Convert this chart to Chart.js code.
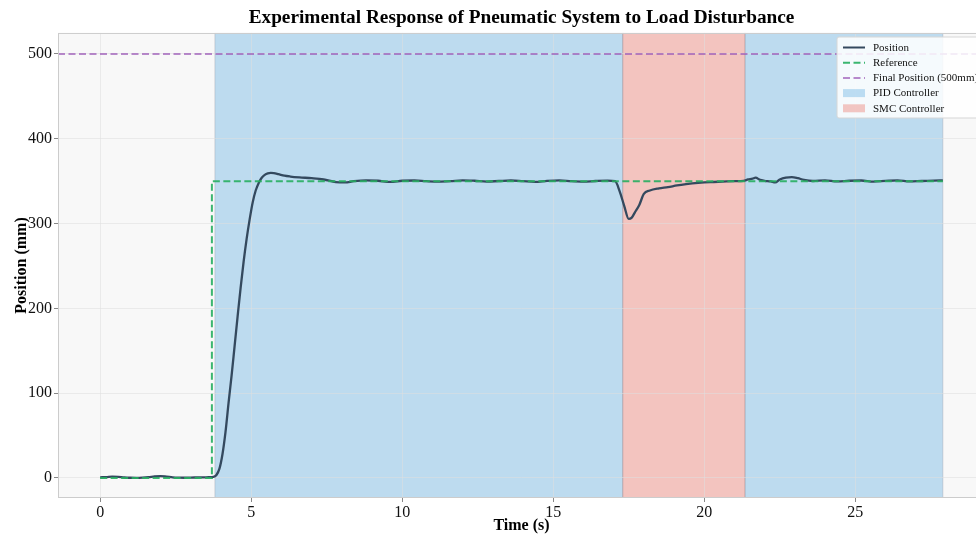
<!DOCTYPE html>
<html>
<head>
<meta charset="utf-8">
<title>Pneumatic System Load Disturbance Response</title>
<script src="https://cdn.jsdelivr.net/npm/chart.js@4.4.1/dist/chart.umd.min.js"></script>
<style>
  html, body { margin: 0; padding: 0; background: #ffffff; overflow: hidden; }
  #wrap { width: 1000px; height: 535px; }
</style>
</head>
<body>
<div id="wrap"><canvas id="chart" width="1000" height="535"></canvas></div>
<script>
// Measured piston position (mm) over time (s)
const timeS = [0, 0.2, 0.4, 0.6, 0.8, 1.0, 1.2, 1.4, 1.6, 1.8, 2.0, 2.2, 2.4, 2.6, 2.8, 3.0, 3.2, 3.4, 3.6, 3.75,
  3.85, 3.95, 4.05, 4.15, 4.25, 4.35, 4.45, 4.55, 4.65, 4.75, 4.85, 4.95, 5.05, 5.15, 5.25, 5.35, 5.45, 5.55, 5.65, 5.75,
  5.9, 6.1, 6.3, 6.6, 7.0, 7.4, 7.8, 8.1, 8.4, 8.8, 9.2, 9.6, 10.0, 10.4, 10.8, 11.2, 11.6, 12.0, 12.4, 12.8,
  13.2, 13.6, 14.0, 14.4, 14.8, 15.2, 15.6, 16.0, 16.4, 16.8, 17.05, 17.2, 17.35, 17.5, 17.6, 17.7, 17.85, 18.0, 18.2, 18.5,
  18.8, 19.1, 19.4, 19.8, 20.2, 20.6, 21.0, 21.3, 21.45, 21.6, 21.7, 21.85, 22.0, 22.2, 22.35, 22.5, 22.7, 22.9, 23.1, 23.3,
  23.6, 24.0, 24.4, 24.8, 25.2, 25.6, 26.0, 26.4, 26.8, 27.2, 27.6, 27.9];
const positionMm = [0.8, 1.0, 1.5, 1.2, 0.6, 0.3, 0.2, 0.4, 0.9, 1.8, 2.2, 1.6, 0.8, 0.4, 0.3, 0.5, 0.6, 0.7, 0.9, 1.2,
  3.5, 11, 28, 54, 88, 120, 155, 190, 224, 255, 282, 305, 325, 339, 348, 354, 357.5, 359.3, 359.8, 359.5,
  358.3, 356.5, 355.5, 354.5, 353.5, 352, 349, 348.5, 350, 351, 350.5, 349.2, 350.5, 350.8, 350, 349.5, 350, 351, 350.5, 349.6,
  350.2, 350.8, 350, 349.2, 350.4, 351, 350, 349.5, 350.2, 350.6, 350, 338, 321, 305.5, 307, 313, 322, 335, 339, 341.5,
  343, 345, 346.5, 348, 349, 349.5, 350, 350.5, 352, 353, 354.2, 351.5, 350.5, 349.8, 348.5, 352, 354.3, 354.8, 353.5, 351.5,
  350.2, 351, 349.8, 350.5, 350.8, 349.6, 350.3, 350.9, 349.7, 350.2, 350.6, 351];

// Reference set-point (step to 350 mm)
const refTimeS = [0, 3.7, 3.7, 27.9];
const refMm = [0, 0, 350, 350];

// Final target position
const finalPositionMm = 500;

// Controller active intervals (s)
const pidSpans = [[3.8, 17.3], [21.35, 27.9]];
const smcSpans = [[17.3, 21.35]];

// Axis ranges and ticks
const xRange = [-1.395, 29.295];
const yRange = [-23.6, 524.8];
const xTicks = [0, 5, 10, 15, 20, 25];
const yTicks = [0, 100, 200, 300, 400, 500];

const SERIF = "'Liberation Serif', 'Times New Roman', serif";
const PID_FILL = 'rgba(52, 152, 219, 0.3)';
const SMC_FILL = 'rgba(231, 76, 60, 0.3)';
const POS_COLOR = '#34495e';
const REF_COLOR = 'rgba(39, 174, 96, 0.9)';
const FINAL_COLOR = 'rgba(155, 89, 182, 0.7)';
const GRID_COLOR = 'rgba(222, 222, 222, 0.55)';

const toXY = (xs, ys) => xs.map((x, i) => ({ x: x, y: ys[i] }));

// Plot background and controller shading, behind grid and lines
const backdrop = {
  id: 'backdrop',
  beforeDraw(chart) {
    const { ctx, chartArea: a, scales: { x } } = chart;
    ctx.save();
    ctx.fillStyle = '#f8f8f8';
    ctx.fillRect(a.left, a.top, a.right - a.left, a.bottom - a.top);
    const shade = (spans, color) => {
      spans.forEach(([s, e]) => {
        const x0 = x.getPixelForValue(s), x1 = x.getPixelForValue(e);
        ctx.fillStyle = color;
        ctx.fillRect(x0, a.top, x1 - x0, a.bottom - a.top);
        ctx.strokeStyle = 'rgba(150,150,160,0.35)';
        ctx.lineWidth = 1;
        ctx.beginPath();
        ctx.moveTo(x0, a.top); ctx.lineTo(x0, a.bottom);
        ctx.moveTo(x1, a.top); ctx.lineTo(x1, a.bottom);
        ctx.stroke();
      });
    };
    shade(pidSpans, PID_FILL);
    shade(smcSpans, SMC_FILL);
    ctx.restore();
  }
};

// Axes frame and in-plot legend
const frameAndLegend = {
  id: 'frameAndLegend',
  afterDraw(chart) {
    const { ctx, chartArea: a } = chart;
    ctx.save();
    ctx.strokeStyle = '#cccccc';
    ctx.lineWidth = 1;
    ctx.strokeRect(a.left + 0.5, a.top + 0.5, a.right - a.left - 1, a.bottom - a.top - 1);

    const entries = [
      { label: 'Position', type: 'line', color: POS_COLOR, dash: [] },
      { label: 'Reference', type: 'line', color: REF_COLOR, dash: [7, 3.5] },
      { label: 'Final Position (500mm)', type: 'line', color: FINAL_COLOR, dash: [7, 3.5] },
      { label: 'PID Controller', type: 'box', color: PID_FILL },
      { label: 'SMC Controller', type: 'box', color: SMC_FILL }
    ];
    const bx = 837, by = 37, bw = 142, bh = 81;
    ctx.fillStyle = 'rgba(255,255,255,0.85)';
    ctx.strokeStyle = '#d6d6d6';
    ctx.beginPath();
    ctx.roundRect(bx, by, bw, bh, 2);
    ctx.fill();
    ctx.stroke();

    ctx.font = '11px ' + SERIF;
    ctx.textBaseline = 'middle';
    ctx.textAlign = 'left';
    entries.forEach((en, i) => {
      const cy = by + 10.5 + i * 15.2;
      if (en.type === 'line') {
        ctx.strokeStyle = en.color;
        ctx.lineWidth = 2;
        ctx.setLineDash(en.dash);
        ctx.beginPath();
        ctx.moveTo(843, cy);
        ctx.lineTo(865, cy);
        ctx.stroke();
        ctx.setLineDash([]);
      } else {
        ctx.fillStyle = en.color;
        ctx.fillRect(843, cy - 4, 22, 8);
      }
      ctx.fillStyle = '#111';
      ctx.fillText(en.label, 873, cy + 0.5);
    });
    ctx.restore();
  }
};

new Chart(document.getElementById('chart'), {
  type: 'line',
  data: {
    datasets: [
      {
        label: 'Final Position (500mm)',
        data: toXY(xRange, [finalPositionMm, finalPositionMm]),
        borderColor: FINAL_COLOR, borderWidth: 2, borderDash: [7, 3.5],
        pointRadius: 0, tension: 0, order: 3
      },
      {
        label: 'Reference',
        data: toXY(refTimeS, refMm),
        borderColor: REF_COLOR, borderWidth: 2, borderDash: [7, 3.5],
        pointRadius: 0, tension: 0, order: 1
      },
      {
        label: 'Position',
        data: toXY(timeS, positionMm),
        borderColor: POS_COLOR, borderWidth: 2.3,
        pointRadius: 0, cubicInterpolationMode: 'monotone', order: 2
      }
    ]
  },
  options: {
    responsive: false,
    animation: false,
    events: [],
    layout: { padding: { left: 0, right: 15, top: 0, bottom: 0 } },
    plugins: {
      legend: { display: false },
      tooltip: { enabled: false },
      title: {
        display: true,
        fullSize: false,
        text: 'Experimental Response of Pneumatic System to Load Disturbance',
        color: '#000',
        font: { family: SERIF, size: 19.3, weight: 'bold', lineHeight: 1.2 },
        padding: { top: 6, bottom: 3.8 }
      }
    },
    scales: {
      x: {
        type: 'linear',
        min: xRange[0], max: xRange[1],
        afterBuildTicks: (s) => { s.ticks = xTicks.map(v => ({ value: v })); },
        afterFit: (s) => { s.height = 37; },
        ticks: { color: '#111', font: { family: SERIF, size: 16 }, padding: 1, maxRotation: 0 },
        grid: { color: GRID_COLOR, tickColor: '#888', tickLength: 4 },
        border: { display: false },
        title: { display: true, text: 'Time (s)', color: '#000',
                 font: { family: SERIF, size: 16, weight: 'bold' }, padding: { top: 0, bottom: 0 } }
      },
      y: {
        type: 'linear',
        min: yRange[0], max: yRange[1],
        afterBuildTicks: (s) => { s.ticks = yTicks.map(v => ({ value: v })); },
        afterFit: (s) => { s.width = 58; },
        ticks: { color: '#111', font: { family: SERIF, size: 16 }, padding: 2 },
        grid: { color: GRID_COLOR, tickColor: '#888', tickLength: 4 },
        border: { display: false },
        title: { display: true, text: 'Position (mm)', color: '#000',
                 font: { family: SERIF, size: 16, weight: 'bold' }, padding: { top: 12, bottom: 0 } }
      }
    }
  },
  plugins: [backdrop, frameAndLegend]
});
</script>
</body>
</html>
